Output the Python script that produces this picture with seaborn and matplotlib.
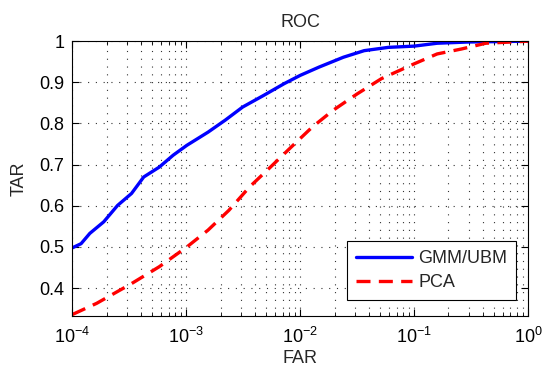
import numpy as np
import matplotlib
matplotlib.use("Agg")
import matplotlib.pyplot as plt
import matplotlib.ticker as mticker
import seaborn as sns

# ROC data (FAR on log scale)
far_gmm = [1.0e-4, 1.19e-4, 1.42e-4, 1.88e-4, 2.49e-4, 3.30e-4, 4.22e-4, 5.78e-4,
           7.66e-4, 1.01e-3, 1.55e-3, 2.19e-3, 3.12e-3, 4.75e-3, 7.24e-3, 1.0e-2,
           1.46e-2, 2.39e-2, 3.64e-2, 5.94e-2, 1.0e-1, 1.59e-1, 2.99e-1, 1.0]
tar_gmm = [0.498, 0.508, 0.533, 0.561, 0.601, 0.630, 0.670, 0.694,
           0.723, 0.747, 0.779, 0.808, 0.840, 0.868, 0.897, 0.917,
           0.937, 0.961, 0.977, 0.985, 0.988, 0.995, 0.998, 1.0]

far_pca = [1.0e-4, 1.63e-4, 3.30e-4, 5.78e-4, 1.01e-3, 1.55e-3, 2.36e-3, 3.59e-3,
           5.47e-3, 8.34e-3, 1.27e-2, 1.94e-2, 3.16e-2, 5.16e-2, 1.0e-1, 1.59e-1,
           2.60e-1, 4.25e-1, 1.0]
tar_pca = [0.336, 0.363, 0.411, 0.452, 0.500, 0.541, 0.589, 0.646,
           0.694, 0.743, 0.791, 0.832, 0.872, 0.909, 0.945, 0.969,
           0.981, 0.995, 1.0]

y_ticks = [0.4, 0.5, 0.6, 0.7, 0.8, 0.9, 1.0]
y_tick_labels = ['0.4', '0.5', '0.6', '0.7', '0.8', '0.9', '1']

# stile tipo MATLAB
sns.set_theme(style="ticks")
plt.rcParams['font.family'] = ['Liberation Sans', 'DejaVu Sans']
plt.rcParams['mathtext.default'] = 'regular'
plt.rcParams['axes.linewidth'] = 0.8

fig = plt.figure(figsize=(5.45, 3.71), dpi=100)
ax = fig.add_axes([0.133, 0.148, 0.836, 0.741])

sns.lineplot(x=far_gmm, y=tar_gmm, ax=ax, color='#0000ff', linewidth=2.4,
             label='GMM/UBM', sort=False, estimator=None)
sns.lineplot(x=far_pca, y=tar_pca, ax=ax, color='#ff0000', linewidth=2.4,
             linestyle=(0, (4.2, 2.5)), label='PCA', sort=False, estimator=None)

ax.set_xscale('log')
ax.set_xlim(1e-4, 1)
ax.set_ylim(0.332, 1)
ax.set_yticks(y_ticks)
ax.set_yticklabels(y_tick_labels)
ax.xaxis.set_major_locator(mticker.LogLocator(base=10, numticks=10))
ax.xaxis.set_minor_locator(mticker.LogLocator(base=10, subs=np.arange(2, 10), numticks=20))
ax.xaxis.set_minor_formatter(mticker.NullFormatter())

ax.grid(True, which='major', axis='both', color='#333333', linestyle=(0, (1, 6)), linewidth=0.8)
ax.grid(True, which='minor', axis='x', color='#333333', linestyle=(0, (1, 6)), linewidth=0.8)

ax.tick_params(which='both', direction='in', top=True, right=True, colors='black',
               labelsize=13)
ax.tick_params(which='major', length=5, width=0.8)
ax.tick_params(which='minor', length=3, width=0.6)
ax.tick_params(axis='x', which='major', pad=8)
ax.tick_params(axis='y', which='major', pad=6)

ax.set_title('ROC', fontsize=13, pad=10)
ax.set_xlabel('FAR', fontsize=13, labelpad=2)
ax.set_ylabel('TAR', fontsize=13, labelpad=8)

leg = ax.legend(loc='lower right', bbox_to_anchor=(0.974, 0.058), borderaxespad=0,
                fontsize=13, handlelength=3.1, handletextpad=0.35, borderpad=0.5,
                labelspacing=0.4, fancybox=False, framealpha=1, edgecolor='black')
leg.get_frame().set_linewidth(0.8)

for s in ax.spines.values():
    s.set_color('black')

fig.savefig('out.png', dpi=100)
